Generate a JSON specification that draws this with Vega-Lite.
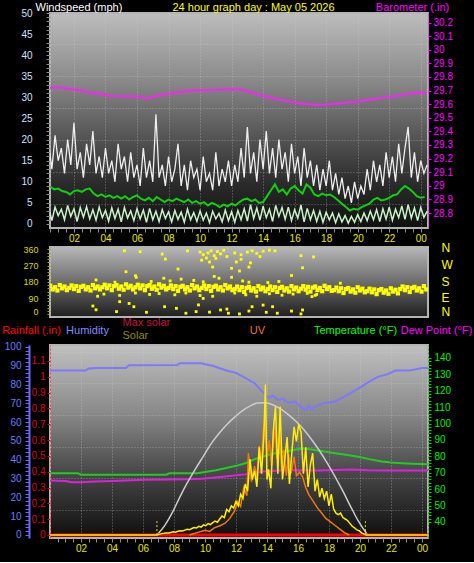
{
"$schema": "https://vega.github.io/schema/vega-lite/v6.json",
"background": "#000000",
"padding": {"left": 0, "top": 0, "right": 2, "bottom": 8},
"spacing": -4,
"config": {
  "font": "Liberation Sans",
  "axis": {"labelFont": "Liberation Sans", "titleFont": "Liberation Sans", "titleFontWeight": "normal", "labelFontSize": 10, "titleFontSize": 11, "grid": false, "labelOverlap": false, "labelFlush": false}
},
"datasets": {
"gust": [{"h":0,"v":22},{"h":0.2,"v":14},{"h":0.4,"v":19},{"h":0.6,"v":13},{"h":0.8,"v":21},{"h":1,"v":15},{"h":1.2,"v":18},{"h":1.4,"v":12},{"h":1.6,"v":20},{"h":1.8,"v":14},
{"h":2,"v":24},{"h":2.2,"v":13},{"h":2.4,"v":17},{"h":2.6,"v":11},{"h":2.8,"v":19},{"h":3,"v":14},{"h":3.2,"v":22},{"h":3.4,"v":12},{"h":3.6,"v":16},{"h":3.8,"v":11},
{"h":4,"v":18},{"h":4.2,"v":12},{"h":4.4,"v":15},{"h":4.6,"v":10},{"h":4.8,"v":19},{"h":5,"v":13},{"h":5.2,"v":16},{"h":5.4,"v":10},{"h":5.6,"v":17},{"h":5.8,"v":11},
{"h":6,"v":14},{"h":6.2,"v":9},{"h":6.4,"v":18},{"h":6.6,"v":11},{"h":6.8,"v":15},{"h":7,"v":10},{"h":7.2,"v":26},{"h":7.4,"v":11},{"h":7.6,"v":14},{"h":7.8,"v":9},
{"h":8,"v":16},{"h":8.2,"v":10},{"h":8.4,"v":13},{"h":8.6,"v":19},{"h":8.8,"v":9},{"h":9,"v":14},{"h":9.2,"v":8},{"h":9.4,"v":15},{"h":9.6,"v":11},{"h":9.8,"v":13},
{"h":10,"v":8},{"h":10.2,"v":16},{"h":10.4,"v":10},{"h":10.6,"v":12},{"h":10.8,"v":8},{"h":11,"v":17},{"h":11.2,"v":9},{"h":11.4,"v":13},{"h":11.6,"v":10},{"h":11.8,"v":15},
{"h":12,"v":9},{"h":12.2,"v":14},{"h":12.4,"v":10},{"h":12.6,"v":18},{"h":12.8,"v":11},{"h":13,"v":23},{"h":13.2,"v":12},{"h":13.4,"v":17},{"h":13.6,"v":10},{"h":13.8,"v":20},
{"h":14,"v":13},{"h":14.2,"v":22},{"h":14.4,"v":12},{"h":14.6,"v":18},{"h":14.8,"v":11},{"h":15,"v":20},{"h":15.2,"v":13},{"h":15.4,"v":17},{"h":15.6,"v":10},{"h":15.8,"v":19},
{"h":16,"v":12},{"h":16.2,"v":16},{"h":16.4,"v":9},{"h":16.6,"v":18},{"h":16.8,"v":11},{"h":17,"v":15},{"h":17.2,"v":9},{"h":17.4,"v":14},{"h":17.6,"v":8},{"h":17.8,"v":13},
{"h":18,"v":9},{"h":18.2,"v":15},{"h":18.4,"v":8},{"h":18.6,"v":12},{"h":18.8,"v":7},{"h":19,"v":11},{"h":19.2,"v":6},{"h":19.4,"v":9},{"h":19.6,"v":5},{"h":19.8,"v":10},
{"h":20,"v":6},{"h":20.2,"v":9},{"h":20.4,"v":7},{"h":20.6,"v":13},{"h":20.8,"v":8},{"h":21,"v":15},{"h":21.2,"v":10},{"h":21.4,"v":14},{"h":21.6,"v":9},{"h":21.8,"v":17},
{"h":22,"v":11},{"h":22.2,"v":16},{"h":22.4,"v":10},{"h":22.6,"v":19},{"h":22.8,"v":12},{"h":23,"v":18},{"h":23.2,"v":23},{"h":23.4,"v":11},{"h":23.6,"v":17},{"h":23.8,"v":10},
{"h":24,"v":15},{"h":24.2,"v":12},{"h":24.4,"v":14}],
"low": [{"h":0,"v":4.2},{"h":0.2,"v":1.5},{"h":0.4,"v":3.8},{"h":0.6,"v":0.8},{"h":0.8,"v":4.0},{"h":1,"v":2.0},{"h":1.2,"v":3.5},{"h":1.4,"v":1.0},{"h":1.6,"v":4.4},{"h":1.8,"v":1.8},
{"h":2,"v":3.6},{"h":2.2,"v":0.6},{"h":2.4,"v":3.9},{"h":2.6,"v":1.6},{"h":2.8,"v":4.1},{"h":3,"v":1.2},{"h":3.2,"v":3.4},{"h":3.4,"v":0.9},{"h":3.6,"v":4.0},{"h":3.8,"v":1.5},
{"h":4,"v":3.2},{"h":4.2,"v":0.7},{"h":4.4,"v":3.8},{"h":4.6,"v":1.3},{"h":4.8,"v":3.5},{"h":5,"v":0.5},{"h":5.2,"v":3.9},{"h":5.4,"v":1.4},{"h":5.6,"v":3.1},{"h":5.8,"v":0.8},
{"h":6,"v":3.6},{"h":6.2,"v":1.2},{"h":6.4,"v":3.3},{"h":6.6,"v":0.4},{"h":6.8,"v":3.7},{"h":7,"v":1.0},{"h":7.2,"v":3.0},{"h":7.4,"v":0.6},{"h":7.6,"v":3.4},{"h":7.8,"v":1.3},
{"h":8,"v":2.9},{"h":8.2,"v":0.5},{"h":8.4,"v":3.2},{"h":8.6,"v":1.1},{"h":8.8,"v":2.8},{"h":9,"v":0.4},{"h":9.2,"v":3.5},{"h":9.4,"v":1.0},{"h":9.6,"v":2.7},{"h":9.8,"v":0.6},
{"h":10,"v":3.1},{"h":10.2,"v":0.9},{"h":10.4,"v":2.6},{"h":10.6,"v":0.3},{"h":10.8,"v":3.0},{"h":11,"v":1.2},{"h":11.2,"v":2.5},{"h":11.4,"v":0.5},{"h":11.6,"v":3.3},{"h":11.8,"v":0.8},
{"h":12,"v":2.9},{"h":12.2,"v":0.4},{"h":12.4,"v":3.2},{"h":12.6,"v":1.0},{"h":12.8,"v":3.6},{"h":13,"v":0.7},{"h":13.2,"v":4.6},{"h":13.4,"v":1.3},{"h":13.6,"v":3.8},{"h":13.8,"v":0.9},
{"h":14,"v":4.2},{"h":14.2,"v":1.5},{"h":14.4,"v":3.5},{"h":14.6,"v":0.6},{"h":14.8,"v":4.4},{"h":15,"v":1.8},{"h":15.2,"v":3.9},{"h":15.4,"v":1.1},{"h":15.6,"v":4.0},{"h":15.8,"v":0.8},
{"h":16,"v":3.4},{"h":16.2,"v":1.4},{"h":16.4,"v":4.5},{"h":16.6,"v":0.5},{"h":16.8,"v":3.7},{"h":17,"v":1.0},{"h":17.2,"v":3.2},{"h":17.4,"v":0.6},{"h":17.6,"v":3.0},{"h":17.8,"v":0.4},
{"h":18,"v":2.8},{"h":18.2,"v":1.0},{"h":18.4,"v":2.6},{"h":18.6,"v":0.3},{"h":18.8,"v":2.4},{"h":19,"v":0.5},{"h":19.2,"v":2.0},{"h":19.4,"v":0.2},{"h":19.6,"v":1.8},{"h":19.8,"v":0.4},
{"h":20,"v":2.2},{"h":20.2,"v":0.6},{"h":20.4,"v":2.6},{"h":20.6,"v":0.8},{"h":20.8,"v":3.0},{"h":21,"v":1.0},{"h":21.2,"v":3.4},{"h":21.4,"v":0.6},{"h":21.6,"v":3.6},{"h":21.8,"v":1.2},
{"h":22,"v":4.0},{"h":22.2,"v":0.9},{"h":22.4,"v":3.5},{"h":22.6,"v":1.5},{"h":22.8,"v":4.3},{"h":23,"v":1.1},{"h":23.2,"v":4.6},{"h":23.4,"v":1.4},{"h":23.6,"v":3.8},{"h":23.8,"v":0.8},
{"h":24,"v":3.9},{"h":24.2,"v":1.6},{"h":24.4,"v":3.0}],
"avg": [{"h":0,"v":9.0},{"h":0.25,"v":8.6},{"h":0.5,"v":8.8},{"h":0.75,"v":8.2},{"h":1,"v":8.4},{"h":1.25,"v":7.8},{"h":1.5,"v":7.6},{"h":1.75,"v":7.0},{"h":2,"v":7.8},{"h":2.25,"v":8.0},
{"h":2.5,"v":7.6},{"h":2.75,"v":8.2},{"h":3,"v":8.4},{"h":3.25,"v":7.2},{"h":3.5,"v":6.6},{"h":3.75,"v":7.0},{"h":4,"v":6.4},{"h":4.25,"v":6.8},{"h":4.5,"v":6.2},{"h":4.75,"v":6.6},
{"h":5,"v":6.0},{"h":5.25,"v":6.6},{"h":5.5,"v":5.8},{"h":5.75,"v":6.4},{"h":6,"v":6.8},{"h":6.25,"v":6.0},{"h":6.5,"v":5.6},{"h":6.75,"v":6.2},{"h":7,"v":5.4},{"h":7.25,"v":6.4},
{"h":7.5,"v":5.8},{"h":7.75,"v":5.2},{"h":8,"v":5.8},{"h":8.25,"v":5.4},{"h":8.5,"v":6.0},{"h":8.75,"v":5.6},{"h":9,"v":5.2},{"h":9.25,"v":5.8},{"h":9.5,"v":5.0},{"h":9.75,"v":5.4},
{"h":10,"v":4.8},{"h":10.25,"v":5.2},{"h":10.5,"v":4.4},{"h":10.75,"v":5.0},{"h":11,"v":4.6},{"h":11.25,"v":4.0},{"h":11.5,"v":4.6},{"h":11.75,"v":4.2},{"h":12,"v":4.8},{"h":12.25,"v":4.4},
{"h":12.5,"v":5.2},{"h":12.75,"v":5.8},{"h":13,"v":6.0},{"h":13.25,"v":5.4},{"h":13.5,"v":5.8},{"h":13.75,"v":5.0},{"h":14,"v":5.2},{"h":14.25,"v":6.6},{"h":14.5,"v":8.0},{"h":14.75,"v":9.4},
{"h":15,"v":7.6},{"h":15.25,"v":8.2},{"h":15.5,"v":7.0},{"h":15.75,"v":8.4},{"h":16,"v":9.0},{"h":16.25,"v":8.0},{"h":16.5,"v":7.2},{"h":16.75,"v":9.4},{"h":17,"v":8.6},{"h":17.25,"v":7.0},
{"h":17.5,"v":6.6},{"h":17.75,"v":7.2},{"h":18,"v":6.8},{"h":18.25,"v":7.0},{"h":18.5,"v":6.4},{"h":18.75,"v":5.6},{"h":19,"v":4.8},{"h":19.25,"v":4.0},{"h":19.5,"v":3.2},{"h":19.75,"v":3.6},
{"h":20,"v":3.4},{"h":20.25,"v":4.0},{"h":20.5,"v":4.4},{"h":20.75,"v":4.8},{"h":21,"v":5.8},{"h":21.25,"v":6.2},{"h":21.5,"v":5.6},{"h":21.75,"v":5.8},{"h":22,"v":6.2},{"h":22.25,"v":6.8},
{"h":22.5,"v":7.0},{"h":22.75,"v":8.2},{"h":23,"v":9.0},{"h":23.25,"v":8.4},{"h":23.5,"v":7.6},{"h":23.75,"v":6.6},{"h":24,"v":6.2},{"h":24.25,"v":6.4}],
"baro": [{"h":0,"v":29.72},{"h":0.5,"v":29.72},{"h":1,"v":29.725},{"h":1.5,"v":29.715},{"h":1.9,"v":29.71},{"h":2.5,"v":29.7},{"h":3,"v":29.685},{"h":3.6,"v":29.675},{"h":4.5,"v":29.66},{"h":5.3,"v":29.658},
{"h":6.2,"v":29.655},{"h":6.6,"v":29.64},{"h":7,"v":29.652},{"h":7.5,"v":29.665},{"h":7.9,"v":29.675},{"h":8.6,"v":29.688},{"h":9.4,"v":29.7},{"h":10.1,"v":29.703},{"h":10.8,"v":29.705},{"h":11.5,"v":29.708},
{"h":12,"v":29.71},{"h":12.5,"v":29.71},{"h":13.2,"v":29.69},{"h":14,"v":29.66},{"h":15,"v":29.635},{"h":16.1,"v":29.61},{"h":16.8,"v":29.6},{"h":17.4,"v":29.595},{"h":18,"v":29.598},{"h":18.7,"v":29.605},
{"h":19.4,"v":29.612},{"h":20,"v":29.62},{"h":20.6,"v":29.63},{"h":21.2,"v":29.64},{"h":21.8,"v":29.65},{"h":22.5,"v":29.66},{"h":23.2,"v":29.675},{"h":23.8,"v":29.685},{"h":24.4,"v":29.682}],
"dirband": [{"h":0.5,"v":158},{"h":0.65,"v":138},{"h":0.8,"v":150},{"h":0.95,"v":132},{"h":1.1,"v":162},{"h":1.25,"v":144},{"h":1.4,"v":154},{"h":1.55,"v":134},{"h":1.7,"v":146},{"h":1.85,"v":160},
{"h":2,"v":140},{"h":2.15,"v":156},{"h":2.3,"v":130},{"h":2.45,"v":152},{"h":2.6,"v":158},{"h":2.75,"v":138},{"h":2.9,"v":150},{"h":3.05,"v":132},{"h":3.2,"v":162},{"h":3.35,"v":144},
{"h":3.5,"v":154},{"h":3.65,"v":138},{"h":3.8,"v":150},{"h":3.95,"v":164},{"h":4.1,"v":144},{"h":4.25,"v":160},{"h":4.4,"v":134},{"h":4.55,"v":156},{"h":4.7,"v":162},{"h":4.85,"v":142},
{"h":5,"v":154},{"h":5.15,"v":136},{"h":5.3,"v":166},{"h":5.45,"v":148},{"h":5.6,"v":158},{"h":5.75,"v":138},{"h":5.9,"v":150},{"h":6.05,"v":164},{"h":6.2,"v":144},{"h":6.35,"v":160},
{"h":6.5,"v":134},{"h":6.65,"v":156},{"h":6.8,"v":162},{"h":6.95,"v":142},{"h":7.1,"v":154},{"h":7.25,"v":136},{"h":7.4,"v":166},{"h":7.55,"v":148},{"h":7.7,"v":158},{"h":7.85,"v":138},
{"h":8,"v":146},{"h":8.15,"v":160},{"h":8.3,"v":140},{"h":8.45,"v":156},{"h":8.6,"v":130},{"h":8.75,"v":152},{"h":8.9,"v":158},{"h":9.05,"v":138},{"h":9.2,"v":150},{"h":9.35,"v":132},
{"h":9.5,"v":162},{"h":9.65,"v":144},{"h":9.8,"v":154},{"h":9.95,"v":134},{"h":10.1,"v":146},{"h":10.25,"v":160},{"h":10.4,"v":140},{"h":10.55,"v":156},{"h":10.7,"v":130},{"h":10.85,"v":152},
{"h":11,"v":158},{"h":11.15,"v":138},{"h":11.3,"v":150},{"h":11.45,"v":132},{"h":11.6,"v":162},{"h":11.75,"v":144},{"h":11.9,"v":154},{"h":12.05,"v":134},{"h":12.2,"v":140},{"h":12.35,"v":154},
{"h":12.5,"v":134},{"h":12.65,"v":150},{"h":12.8,"v":124},{"h":12.95,"v":146},{"h":13.1,"v":152},{"h":13.25,"v":132},{"h":13.4,"v":144},{"h":13.55,"v":126},{"h":13.7,"v":156},{"h":13.85,"v":138},
{"h":14,"v":148},{"h":14.15,"v":128},{"h":14.3,"v":140},{"h":14.45,"v":154},{"h":14.6,"v":134},{"h":14.75,"v":150},{"h":14.9,"v":124},{"h":15.05,"v":146},{"h":15.2,"v":152},{"h":15.35,"v":132},
{"h":15.5,"v":144},{"h":15.65,"v":126},{"h":15.8,"v":156},{"h":15.95,"v":138},{"h":16.1,"v":148},{"h":16.25,"v":128},{"h":16.4,"v":142},{"h":16.55,"v":156},{"h":16.7,"v":136},{"h":16.85,"v":152},
{"h":17,"v":126},{"h":17.15,"v":148},{"h":17.3,"v":154},{"h":17.45,"v":134},{"h":17.6,"v":146},{"h":17.75,"v":128},{"h":17.9,"v":158},{"h":18.05,"v":140},{"h":18.2,"v":150},{"h":18.35,"v":130},
{"h":18.5,"v":134},{"h":18.65,"v":148},{"h":18.8,"v":128},{"h":18.95,"v":144},{"h":19.1,"v":118},{"h":19.25,"v":140},{"h":19.4,"v":146},{"h":19.55,"v":126},{"h":19.7,"v":138},{"h":19.85,"v":120},
{"h":20,"v":150},{"h":20.15,"v":132},{"h":20.3,"v":142},{"h":20.45,"v":122},{"h":20.6,"v":128},{"h":20.75,"v":142},{"h":20.9,"v":122},{"h":21.05,"v":138},{"h":21.2,"v":112},{"h":21.35,"v":134},
{"h":21.5,"v":140},{"h":21.65,"v":120},{"h":21.8,"v":132},{"h":21.95,"v":114},{"h":22.1,"v":144},{"h":22.25,"v":126},{"h":22.4,"v":136},{"h":22.55,"v":116},{"h":22.7,"v":140},{"h":22.85,"v":154},
{"h":23,"v":134},{"h":23.15,"v":150},{"h":23.3,"v":124},{"h":23.45,"v":146},{"h":23.6,"v":152},{"h":23.75,"v":132},{"h":23.9,"v":144},{"h":24.05,"v":126},{"h":24.2,"v":156},{"h":24.35,"v":138}],
"dirscat": [{"h":5.2,"v":352},{"h":6.2,"v":347},{"h":5.3,"v":236},{"h":5.9,"v":214},{"h":7.6,"v":334},{"h":7.8,"v":306},{"h":8.6,"v":251},{"h":9.2,"v":352},
{"h":10,"v":345},{"h":10.2,"v":330},{"h":10.4,"v":312},{"h":10.5,"v":340},{"h":10.7,"v":352},{"h":10.9,"v":325},{"h":11.1,"v":348},{"h":11.3,"v":335},{"h":10.1,"v":300},{"h":10.6,"v":290},{"h":11,"v":310},{"h":11.5,"v":355},{"h":11.7,"v":320},
{"h":12.2,"v":340},{"h":12.6,"v":330},{"h":13,"v":345},{"h":13.3,"v":352},{"h":13.6,"v":338},{"h":14,"v":350},{"h":12.6,"v":305},{"h":13.2,"v":285},{"h":12.3,"v":290},{"h":13.8,"v":320},{"h":14.4,"v":356},{"h":14.75,"v":352},
{"h":10.8,"v":262},{"h":12,"v":255},{"h":12.5,"v":240},{"h":13.1,"v":262},{"h":10.9,"v":210},{"h":12,"v":205},{"h":15.8,"v":215},{"h":16.4,"v":325},{"h":17.2,"v":318},{"h":16.5,"v":258},
{"h":3.2,"v":46},{"h":3.4,"v":25},{"h":4.7,"v":15},{"h":4.9,"v":70},{"h":5.5,"v":60},{"h":5.8,"v":42},{"h":6.6,"v":11},{"h":7.75,"v":42},{"h":8.5,"v":33},{"h":9.1,"v":6},{"h":9.75,"v":15},{"h":9.9,"v":52},{"h":10.2,"v":88},{"h":10.6,"v":12},{"h":11.3,"v":24},{"h":11.7,"v":29},{"h":11.8,"v":6},{"h":12.5,"v":2},{"h":13.1,"v":18},{"h":13.3,"v":42},{"h":14,"v":51},{"h":14.2,"v":11},{"h":14.6,"v":42},{"h":14.9,"v":6},{"h":15.8,"v":18},{"h":16.5,"v":24},{"h":16.4,"v":2},{"h":17.1,"v":98},{"h":17.3,"v":105},
{"h":3.5,"v":100},{"h":3.9,"v":112},{"h":4.9,"v":105},{"h":5.9,"v":118},{"h":6.8,"v":110},{"h":7.4,"v":115},{"h":8.4,"v":108},{"h":9.1,"v":118},{"h":10,"v":104},{"h":10.8,"v":100},{"h":12.2,"v":118},{"h":12.9,"v":108},{"h":13.6,"v":100},{"h":14.4,"v":114},{"h":15.2,"v":106},{"h":15.9,"v":112},{"h":16.8,"v":116},{"h":17.4,"v":110},
{"h":3.4,"v":190},{"h":4.6,"v":178},{"h":5.95,"v":205},{"h":6.9,"v":182},{"h":7.7,"v":200},{"h":8.1,"v":185},{"h":8.8,"v":195},{"h":9.6,"v":188},{"h":10.2,"v":180},{"h":11.2,"v":200},{"h":12.7,"v":185},{"h":13.1,"v":178},{"h":14.3,"v":176},{"h":15,"v":182},{"h":18.9,"v":172}],
"hum": [{"h":0,"v":87.4},{"h":2.3,"v":87.4},{"h":2.5,"v":88.5},{"h":3,"v":88.8},{"h":4.9,"v":88.8},{"h":5.1,"v":90.3},{"h":8.2,"v":90.4},{"h":8.4,"v":91.3},{"h":9.8,"v":91.3},{"h":10,"v":90.8},
{"h":10.5,"v":90},{"h":11,"v":88.5},{"h":11.5,"v":87.2},{"h":12,"v":86.2},{"h":12.6,"v":83.5},{"h":13.2,"v":80.7},{"h":13.6,"v":77},{"h":14.1,"v":73},{"h":14.4,"v":74},{"h":14.7,"v":71.8},
{"h":15,"v":72.5},{"h":15.4,"v":70.2},{"h":15.8,"v":71},{"h":16.2,"v":68},{"h":16.5,"v":66.5},{"h":16.7,"v":68.8},{"h":16.9,"v":66.8},{"h":17.1,"v":68.2},{"h":17.7,"v":70.2},{"h":18.4,"v":71},
{"h":19,"v":73.6},{"h":19.5,"v":76},{"h":20.1,"v":78.9},{"h":20.6,"v":81.5},{"h":21.2,"v":84.2},{"h":21.8,"v":85.5},{"h":22.3,"v":87.4},{"h":23.2,"v":87.4},{"h":23.5,"v":87.9},{"h":24,"v":88.8},{"h":24.4,"v":88.8}],
"temp": [{"h":0,"v":69.7},{"h":1.8,"v":69.7},{"h":2,"v":68.8},{"h":7.5,"v":68.8},{"h":7.7,"v":69.7},{"h":9.5,"v":69.7},{"h":10,"v":70.5},{"h":10.7,"v":71.5},{"h":11.3,"v":72.7},{"h":12,"v":74.2},
{"h":12.6,"v":75.8},{"h":13.2,"v":78.2},{"h":13.7,"v":79.8},{"h":14.1,"v":80.9},{"h":14.6,"v":82},{"h":15.2,"v":82.9},{"h":15.8,"v":84},{"h":16.3,"v":84.9},{"h":16.7,"v":84.5},{"h":17.1,"v":83.9},
{"h":17.7,"v":82.9},{"h":18.4,"v":81.9},{"h":19.2,"v":80.8},{"h":19.9,"v":79.8},{"h":20.6,"v":78.3},{"h":21.4,"v":76.8},{"h":22,"v":76.2},{"h":22.7,"v":75.8},{"h":23.4,"v":75.5},{"h":24.4,"v":75.2}],
"dew": [{"h":0,"v":65.2},{"h":1,"v":65},{"h":1.4,"v":64.2},{"h":2,"v":64.2},{"h":2.9,"v":64.6},{"h":4,"v":65},{"h":6.1,"v":65.7},{"h":8.7,"v":66.1},{"h":9.8,"v":66.4},{"h":10.8,"v":67.3},
{"h":11.6,"v":68},{"h":12.6,"v":69},{"h":13.7,"v":70.7},{"h":14.5,"v":71.2},{"h":15.2,"v":71.7},{"h":16.2,"v":71.5},{"h":17.3,"v":71.3},{"h":18.3,"v":71.6},{"h":19.5,"v":72},{"h":20.5,"v":71.5},{"h":21.6,"v":71.3},{"h":24.4,"v":71.3}],
"maxsol": [{"h":6.9,"v":0},{"h":7.4,"v":65},{"h":7.9,"v":155},{"h":8.4,"v":265},{"h":8.9,"v":365},{"h":9.4,"v":455},{"h":9.9,"v":540},{"h":10.4,"v":625},{"h":10.9,"v":695},{"h":11.4,"v":755},
{"h":11.9,"v":805},{"h":12.4,"v":850},{"h":12.9,"v":882},{"h":13.4,"v":903},{"h":13.9,"v":905},{"h":14.4,"v":890},{"h":14.9,"v":862},{"h":15.4,"v":822},{"h":15.9,"v":775},{"h":16.4,"v":718},
{"h":16.9,"v":650},{"h":17.4,"v":575},{"h":17.9,"v":490},{"h":18.4,"v":398},{"h":18.9,"v":300},{"h":19.4,"v":195},{"h":19.9,"v":95},{"h":20.5,"v":0}],
"solar": [{"h":0,"v":0},{"h":6.9,"v":0},{"h":7.05,"v":5},{"h":7.2,"v":10},{"h":7.35,"v":12},{"h":7.5,"v":15},{"h":7.65,"v":14},{"h":7.8,"v":18},{"h":7.95,"v":22},{"h":8.1,"v":20},
{"h":8.25,"v":26},{"h":8.4,"v":30},{"h":8.55,"v":28},{"h":8.7,"v":34},{"h":8.85,"v":40},{"h":9,"v":36},{"h":9.15,"v":45},{"h":9.3,"v":52},{"h":9.45,"v":48},{"h":9.6,"v":60},
{"h":9.75,"v":55},{"h":9.9,"v":70},{"h":10.05,"v":64},{"h":10.2,"v":78},{"h":10.35,"v":72},{"h":10.5,"v":85},{"h":10.65,"v":95},{"h":10.8,"v":88},{"h":10.95,"v":110},{"h":11.1,"v":130},
{"h":11.25,"v":120},{"h":11.4,"v":175},{"h":11.55,"v":160},{"h":11.7,"v":200},{"h":11.85,"v":185},{"h":12,"v":230},{"h":12.15,"v":200},{"h":12.3,"v":280},{"h":12.45,"v":250},{"h":12.6,"v":350},
{"h":12.75,"v":300},{"h":12.9,"v":520},{"h":13.05,"v":380},{"h":13.2,"v":440},{"h":13.35,"v":330},{"h":13.5,"v":600},{"h":13.65,"v":420},{"h":13.8,"v":680},{"h":13.9,"v":1030},{"h":14,"v":380},
{"h":14.1,"v":450},{"h":14.25,"v":320},{"h":14.4,"v":700},{"h":14.55,"v":880},{"h":14.7,"v":420},{"h":14.85,"v":880},{"h":15,"v":380},{"h":15.15,"v":520},{"h":15.3,"v":670},{"h":15.45,"v":350},
{"h":15.6,"v":560},{"h":15.75,"v":740},{"h":15.9,"v":640},{"h":16.05,"v":760},{"h":16.2,"v":700},{"h":16.35,"v":420},{"h":16.5,"v":600},{"h":16.65,"v":330},{"h":16.8,"v":480},{"h":16.95,"v":560},
{"h":17.1,"v":300},{"h":17.25,"v":380},{"h":17.4,"v":260},{"h":17.55,"v":320},{"h":17.7,"v":250},{"h":17.85,"v":300},{"h":18,"v":200},{"h":18.15,"v":280},{"h":18.3,"v":180},{"h":18.45,"v":150},
{"h":18.6,"v":140},{"h":18.75,"v":150},{"h":18.9,"v":120},{"h":19.05,"v":110},{"h":19.2,"v":100},{"h":19.35,"v":80},{"h":19.5,"v":60},{"h":19.65,"v":50},{"h":19.8,"v":35},{"h":19.95,"v":30},
{"h":20.1,"v":15},{"h":20.25,"v":8},{"h":20.4,"v":0},{"h":24.4,"v":0}],
"uv": [{"h":9,"v":0},{"h":9.5,"v":0.2},{"h":10,"v":0.4},{"h":10.3,"v":0.3},{"h":10.6,"v":0.6},{"h":11,"v":0.8},{"h":11.3,"v":1.0},{"h":11.6,"v":1.4},{"h":11.9,"v":2.0},{"h":12.1,"v":2.8},
{"h":12.3,"v":2.4},{"h":12.5,"v":4.0},{"h":12.7,"v":3.3},{"h":12.8,"v":6.9},{"h":13,"v":4.5},{"h":13.2,"v":5.8},{"h":13.35,"v":4.8},{"h":13.5,"v":7.5},{"h":13.65,"v":6.0},{"h":13.75,"v":8.8},
{"h":13.9,"v":9.9},{"h":14,"v":6.5},{"h":14.15,"v":8.0},{"h":14.3,"v":5.8},{"h":14.5,"v":9.1},{"h":14.65,"v":6.4},{"h":14.8,"v":8.3},{"h":14.95,"v":5.5},{"h":15.1,"v":7.2},{"h":15.25,"v":5.0},
{"h":15.4,"v":6.8},{"h":15.55,"v":5.2},{"h":15.75,"v":6.6},{"h":15.9,"v":5.0},{"h":16.1,"v":5.3},{"h":16.3,"v":4.9},{"h":16.5,"v":4.0},{"h":16.7,"v":3.4},{"h":16.9,"v":3.0},{"h":17.1,"v":2.6},
{"h":17.3,"v":2.2},{"h":17.5,"v":1.9},{"h":17.8,"v":1.4},{"h":18.1,"v":1.1},{"h":18.4,"v":0.8},{"h":18.7,"v":0.5},{"h":19,"v":0.2},{"h":19.3,"v":0}],
"rain": [{"h":0,"v":0},{"h":24.4,"v":0}],
"sun": [{"h":6.9,"v":0,"v2":95},{"h":20.35,"v":0,"v2":95}]
},
"vconcat": [
{
  "width": 378, "height": 215,
  "view": {"stroke": "#b4b4b4", "strokeWidth": 2, "fill": {"gradient": "linear", "x1": 0, "y1": 0, "x2": 0, "y2": 1, "stops": [{"offset": 0, "color": "#bdbdbd"}, {"offset": 0.3, "color": "#8c8c8c"}, {"offset": 0.55, "color": "#5a5a5a"}, {"offset": 0.8, "color": "#2a2a2a"}, {"offset": 1, "color": "#101010"}]}},
  "layer": [
    {"data": {"name": "gust"}, "mark": {"type": "line", "color": "#eeeeee", "strokeWidth": 1.3, "clip": true},
     "encoding": {
       "x": {"field": "h", "type": "quantitative", "scale": {"domain": [0.48, 24.46], "nice": false, "zero": false},
             "axis": {"title": null, "values": [0.5,1,1.5,2,2.5,3,3.5,4,4.5,5,5.5,6,6.5,7,7.5,8,8.5,9,9.5,10,10.5,11,11.5,12,12.5,13,13.5,14,14.5,15,15.5,16,16.5,17,17.5,18,18.5,19,19.5,20,20.5,21,21.5,22,22.5,23,23.5,24],
                      "labelExpr": "datum.value % 2 == 0 ? (datum.value == 24 ? '00' : (datum.value < 10 ? '0' + datum.value : '' + datum.value)) : ''",
                      "labelColor": "#e6e600", "labelFontSize": 10, "labelPadding": 1, "tickSize": 4, "tickColor": "#8c8c8c", "domain": false,
                      "grid": true, "gridColor": "#d0d0d0", "gridDash": [1, 2], "gridOpacity": {"condition": {"test": "datum.value % 2 == 0", "value": 0.5}, "value": 0}}},
       "y": {"field": "v", "type": "quantitative", "scale": {"domain": [-0.95, 50], "nice": false, "zero": false},
             "axis": {"values": [0,1,2,3,4,5,6,7,8,9,10,11,12,13,14,15,16,17,18,19,20,21,22,23,24,25,26,27,28,29,30,31,32,33,34,35,36,37,38,39,40,41,42,43,44,45,46,47,48,49,50],
                      "labelExpr": "datum.value % 5 == 0 ? datum.label : ''", "labelColor": "#d4e0ff", "labelFontSize": 10, "labelPadding": 14,
                      "tickSize": 4, "tickColor": "#8c8c8c", "domain": false,
                      "title": "Windspeed (mph)", "titleColor": "#ffffff", "titleAngle": 0, "titleAlign": "left", "titleBaseline": "middle", "titleX": -15, "titleY": -6}}}},
    {"data": {"name": "low"}, "mark": {"type": "line", "color": "#c8f2c8", "strokeWidth": 1.5, "clip": true},
     "encoding": {
       "x": {"field": "h", "type": "quantitative", "axis": null},
       "y": {"field": "v", "type": "quantitative", "scale": {"domain": [-0.95, 50], "nice": false, "zero": false},
             "axis": {"orient": "left", "values": [4.74, 12.3, 19.9, 27.5, 35.1, 42.7], "labels": false, "ticks": false, "domain": false, "title": null,
                      "grid": true, "gridColor": "#d0d0d0", "gridDash": [1, 2], "gridOpacity": 0.45}}}},
    {"data": {"name": "avg"}, "mark": {"type": "line", "color": "#10d010", "strokeWidth": 2, "clip": true},
     "encoding": {
       "x": {"field": "h", "type": "quantitative", "axis": null},
       "y": {"field": "v", "type": "quantitative", "scale": {"domain": [-0.95, 50], "nice": false, "zero": false}, "axis": null}}},
    {"data": {"name": "baro"}, "mark": {"type": "line", "color": "#ff20ff", "strokeWidth": 2, "clip": true},
     "encoding": {
       "x": {"field": "h", "type": "quantitative",
             "axis": {"orient": "top", "labels": false, "ticks": false, "domain": false, "title": "24 hour graph day : May 05 2026", "titleColor": "#ffff00",
                      "titleAlign": "center", "titleBaseline": "middle", "titleX": 203, "titleY": -6}},
       "y": {"field": "v", "type": "quantitative", "scale": {"domain": [28.69, 30.27], "nice": false, "zero": false},
             "axis": {"orient": "right", "values": [28.8,28.9,29,29.1,29.2,29.3,29.4,29.5,29.6,29.7,29.8,29.9,30,30.1,30.2], "format": "~g",
                      "labelColor": "#ff00ff", "labelFontSize": 10, "labelPadding": 2, "tickSize": 3, "tickColor": "#ff00ff", "domainColor": "#ff00ff", "domainDash": [1, 1],
                      "title": "Barometer (.in)", "titleColor": "#ff00ff", "titleAngle": 0, "titleAlign": "center", "titleBaseline": "middle", "titleX": -16, "titleY": -6}}}}
  ],
  "resolve": {"scale": {"y": "independent"}, "axis": {"x": "independent"}}
},
{
  "width": 378, "height": 70,
  "view": {"stroke": "#b4b4b4", "strokeWidth": 2, "fill": {"gradient": "linear", "x1": 0, "y1": 0, "x2": 0, "y2": 1, "stops": [{"offset": 0, "color": "#b8b8b8"}, {"offset": 0.5, "color": "#6c6c6c"}, {"offset": 1, "color": "#1e1e1e"}]}},
  "layer": [
    {"data": {"name": "dirband"}, "mark": {"type": "square", "filled": true, "color": "#ffff00", "size": 18, "opacity": 1, "clip": true},
     "encoding": {
       "x": {"field": "h", "type": "quantitative", "scale": {"domain": [0.48, 24.46], "nice": false, "zero": false}, "axis": null},
       "y": {"field": "v", "type": "quantitative", "scale": {"domain": [-15, 373], "nice": false, "zero": false},
             "axis": {"orient": "left", "values": [0,18,36,54,72,90,108,126,144,162,180,198,216,234,252,270,288,306,324,342,360], "labelExpr": "datum.value % 90 == 0 ? datum.label : ''",
                      "labelOffset": {"condition": {"test": "datum.value == 0", "value": -2.5}, "value": 0},
                      "labelColor": "#d8d800", "labelFontSize": 9, "labelPadding": 9, "tickSize": 3, "tickColor": "#a8a800", "domain": false, "title": null}}}},
    {"data": {"name": "dirscat"}, "mark": {"type": "square", "filled": true, "color": "#ffff00", "size": 8, "opacity": 1, "clip": true},
     "encoding": {
       "x": {"field": "h", "type": "quantitative", "axis": null},
       "y": {"field": "v", "type": "quantitative", "scale": {"domain": [-15, 373], "nice": false, "zero": false}, "axis": null}}},
    {"data": {"name": "dirscat"}, "mark": {"type": "square", "opacity": 0},
     "encoding": {
       "x": {"field": "h", "type": "quantitative", "axis": null},
       "y": {"field": "v", "type": "quantitative", "scale": {"domain": [-13.4, 362.7], "nice": false, "zero": false},
             "axis": {"orient": "right", "values": [0, 90, 180, 270, 360], "labelExpr": "datum.value == 90 ? 'E' : datum.value == 180 ? 'S' : datum.value == 270 ? 'W' : 'N'",
                      "labelOffset": {"condition": {"test": "datum.value == 0", "value": -3}, "value": 0},
                      "labelColor": "#ffff00", "labelFontSize": 12, "labelPadding": 13, "ticks": false, "domain": false, "title": null}}}}
  ],
  "resolve": {"scale": {"y": "independent"}}
},
{
  "width": 378, "height": 193,
  "view": {"stroke": "#b4b4b4", "strokeWidth": 2, "fill": {"gradient": "linear", "x1": 0, "y1": 0, "x2": 0, "y2": 1, "stops": [{"offset": 0, "color": "#c0c0c0"}, {"offset": 0.35, "color": "#8a8a8a"}, {"offset": 0.65, "color": "#4a4a4a"}, {"offset": 1, "color": "#0e0e0e"}]}},
  "layer": [
    {"data": {"name": "hum"}, "mark": {"type": "line", "color": "#7a7aff", "strokeWidth": 2, "clip": true},
     "encoding": {
       "x": {"field": "h", "type": "quantitative", "scale": {"domain": [0, 24.39], "nice": false, "zero": false},
             "axis": {"title": null, "values": [0.5,1,1.5,2,2.5,3,3.5,4,4.5,5,5.5,6,6.5,7,7.5,8,8.5,9,9.5,10,10.5,11,11.5,12,12.5,13,13.5,14,14.5,15,15.5,16,16.5,17,17.5,18,18.5,19,19.5,20,20.5,21,21.5,22,22.5,23,23.5,24],
                      "labelExpr": "datum.value % 2 == 0 ? (datum.value == 24 ? '00' : (datum.value < 10 ? '0' + datum.value : '' + datum.value)) : ''",
                      "labelColor": "#e6e600", "labelFontSize": 10, "labelPadding": 1, "tickSize": 4, "tickColor": "#8c8c8c", "domain": false,
                      "grid": true, "gridColor": "#d0d0d0", "gridDash": [1, 2], "gridOpacity": {"condition": {"test": "datum.value % 2 == 0", "value": 0.5}, "value": 0}}},
       "y": {"field": "v", "type": "quantitative", "scale": {"domain": [-1.6, 101], "nice": false, "zero": false},
             "axis": {"orient": "left", "offset": 21, "values": [0,2,4,6,8,10,12,14,16,18,20,22,24,26,28,30,32,34,36,38,40,42,44,46,48,50,52,54,56,58,60,62,64,66,68,70,72,74,76,78,80,82,84,86,88,90,92,94,96,98,100],
                      "labelExpr": "datum.value % 10 == 0 ? datum.label : ''", "labelColor": "#6a7cff", "labelFontSize": 10, "labelPadding": 4, "tickSize": 4, "tickColor": "#6a6aff",
                      "domainColor": "#6a6aff", "domainWidth": 2,
                      "title": "Humidity", "titleColor": "#8a8aff", "titleAngle": 0, "titleAlign": "center", "titleBaseline": "middle", "titleX": 58, "titleY": -15}}}},
    {"data": {"name": "temp"}, "mark": {"type": "line", "color": "#22cc22", "strokeWidth": 2, "clip": true},
     "encoding": {
       "x": {"field": "h", "type": "quantitative", "axis": null},
       "y": {"field": "v", "type": "quantitative", "scale": {"domain": [30.2, 147.9], "nice": false, "zero": false},
             "axis": {"orient": "right", "values": [40,42,44,46,48,50,52,54,56,58,60,62,64,66,68,70,72,74,76,78,80,82,84,86,88,90,92,94,96,98,100,102,104,106,108,110,112,114,116,118,120,122,124,126,128,130,132,134,136,138,140],
                      "labelExpr": "datum.value % 10 == 0 ? datum.label : ''", "labelColor": "#00ee00", "labelFontSize": 10, "labelPadding": 3, "tickSize": 3, "tickColor": "#00cc00",
                      "domainColor": "#00cc00", "domainDash": [2, 2],
                      "title": "Temperature (°F)", "titleColor": "#00ff00", "titleAngle": 0, "titleAlign": "center", "titleBaseline": "middle", "titleX": -73, "titleY": -15}}}},
    {"data": {"name": "dew"}, "mark": {"type": "line", "color": "#e020e0", "strokeWidth": 2, "clip": true},
     "encoding": {
       "x": {"field": "h", "type": "quantitative", "axis": null},
       "y": {"field": "v", "type": "quantitative", "scale": {"domain": [30.2, 147.9], "nice": false, "zero": false},
             "axis": {"orient": "right", "labels": false, "ticks": false, "domain": false,
                      "title": "Dew Point (°F)", "titleColor": "#ff00ff", "titleAngle": 0, "titleAlign": "center", "titleBaseline": "middle", "titleX": 8, "titleY": -15}}}},
    {"data": {"name": "maxsol"}, "mark": {"type": "line", "color": "#cccccc", "strokeWidth": 1.5, "clip": true, "interpolate": "monotone"},
     "encoding": {
       "x": {"field": "h", "type": "quantitative", "axis": null},
       "y": {"field": "v", "type": "quantitative", "scale": {"domain": [-20, 1300], "nice": false, "zero": false},
             "axis": {"orient": "left", "values": [171, 388, 605, 821, 1038, 1255], "labels": false, "ticks": false, "domain": false,
                      "grid": true, "gridColor": "#d0d0d0", "gridDash": [1, 2], "gridOpacity": 0.45,
                      "title": "Max solar", "titleColor": "#c8123e", "titleAngle": 0, "titleAlign": "left", "titleBaseline": "middle", "titleX": 72, "titleY": -23}}}},
    {"data": {"name": "rain"}, "mark": {"type": "line", "color": "#ff0000", "strokeWidth": 3, "clip": true},
     "encoding": {
       "x": {"field": "h", "type": "quantitative", "axis": null},
       "y": {"field": "v", "type": "quantitative", "scale": {"domain": [-0.019, 1.201], "nice": false, "zero": false},
             "axis": {"orient": "left", "values": [0,0.1,0.2,0.3,0.4,0.5,0.6,0.7,0.8,0.9,1,1.1], "format": "~g",
                      "labelColor": "#dd0000", "labelFontSize": 10, "labelPadding": 2, "tickSize": 3, "tickColor": "#dd0000", "domainColor": "#ff4040", "domainDash": [2, 2],
                      "title": "Rainfall (.in)", "titleColor": "#ff0000", "titleAngle": 0, "titleAlign": "center", "titleBaseline": "middle", "titleX": -19, "titleY": -15}}}},
    {"data": {"name": "uv"}, "mark": {"type": "line", "color": "#f07810", "strokeWidth": 1.5, "clip": true},
     "encoding": {
       "x": {"field": "h", "type": "quantitative", "axis": null},
       "y": {"field": "v", "type": "quantitative", "scale": {"domain": [-0.25, 16], "nice": false, "zero": false},
             "axis": {"orient": "left", "labels": false, "ticks": false, "domain": false,
                      "title": "UV", "titleColor": "#f07a20", "titleAngle": 0, "titleAlign": "center", "titleBaseline": "middle", "titleX": 207, "titleY": -15}}}},
    {"data": {"name": "solar"}, "mark": {"type": "line", "color": "#ffee00", "strokeWidth": 1.5, "clip": true},
     "encoding": {
       "x": {"field": "h", "type": "quantitative", "axis": null},
       "y": {"field": "v", "type": "quantitative", "scale": {"domain": [-20, 1300], "nice": false, "zero": false},
             "axis": {"orient": "left", "labels": false, "ticks": false, "domain": false,
                      "title": "Solar", "titleColor": "#8c8c10", "titleAngle": 0, "titleAlign": "left", "titleBaseline": "middle", "titleX": 72, "titleY": -10}}}},
    {"data": {"name": "sun"}, "mark": {"type": "rule", "color": "#e6e600", "strokeWidth": 1, "strokeDash": [2, 2]},
     "encoding": {
       "x": {"field": "h", "type": "quantitative", "axis": null},
       "y": {"field": "v", "type": "quantitative", "scale": {"domain": [-20, 1300], "nice": false, "zero": false}, "axis": null},
       "y2": {"field": "v2"}}}
  ],
  "resolve": {"scale": {"y": "independent"}, "axis": {"x": "independent"}}
}
]
}
